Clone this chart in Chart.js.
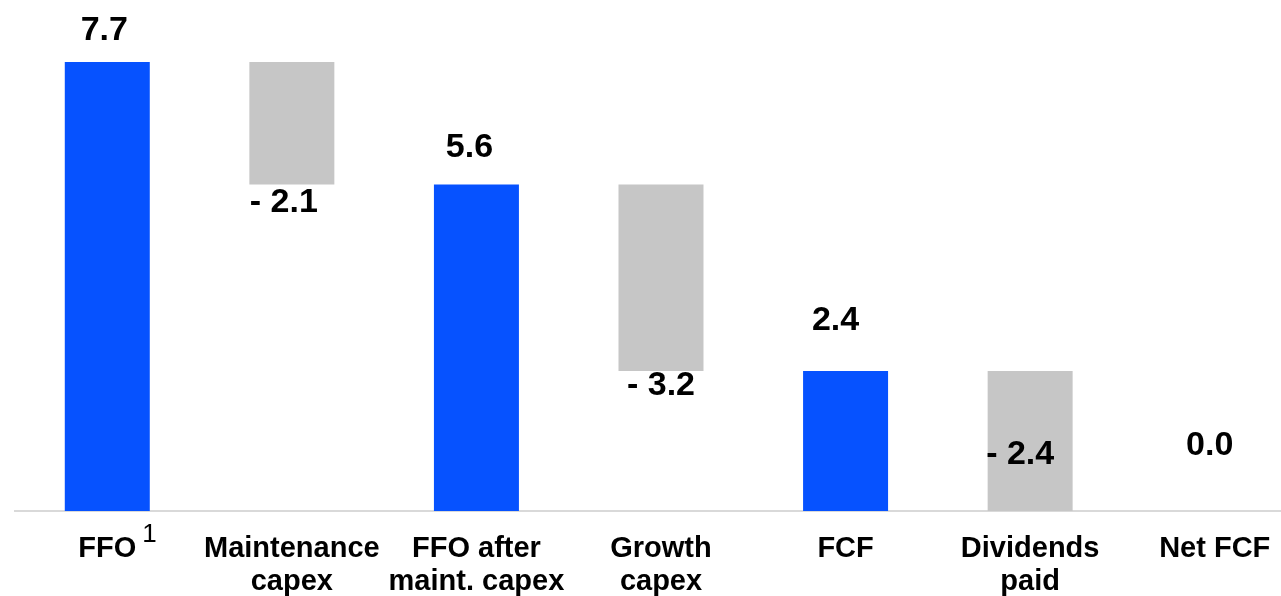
<!DOCTYPE html>
<html>
<head>
<meta charset="utf-8">
<script src="https://cdn.jsdelivr.net/npm/chart.js@4"></script>
<style>
  html, body { margin: 0; padding: 0; background: #fff; overflow: hidden; }
  #wrap { position: relative; width: 1320px; height: 596px; }
</style>
</head>
<body>
<div id="wrap"><canvas id="chart"></canvas></div>
<script>
// data (waterfall)
const categories = [['FFO'], ['Maintenance', 'capex'], ['FFO after', 'maint. capex'], ['Growth', 'capex'], ['FCF'], ['Dividends', 'paid'], ['Net FCF']];
const footnotes = ['1', '', '', '', '', '', ''];
const values = [7.7, -2.1, 5.6, -3.2, 2.4, -2.4, 0.0];
const isTotal = [true, false, true, false, true, false, true];

const blue = '#0652FF';
const grey = '#C6C6C6';

// floating bars: totals from 0, changes from the running total
let running = 0;
const bars = values.map((v, i) => {
  if (isTotal[i]) { running = v; return [0, v]; }
  const from = running;
  running = +(running + v).toFixed(1);
  return [from, running];
});

function fmt(v) {
  return v < 0 ? '- ' + Math.abs(v).toFixed(1) : v.toFixed(1);
}

// label placement (pixels from bar top for totals, from bar bottom for changes)
const labelDx = [-3, -8, -7, 0, -10, -10, -5];
const labelDy = [-22, 28, -27, 24, -41, -47, -56];

const labelPlugin = {
  id: 'valueLabels',
  afterDatasetsDraw(chart) {
    const ctx = chart.ctx;
    const meta = chart.getDatasetMeta(0);
    ctx.save();
    ctx.fillStyle = '#000';
    ctx.textAlign = 'center';
    ctx.textBaseline = 'alphabetic';
    ctx.font = 'bold 34px "Liberation Sans", Arial, sans-serif';
    meta.data.forEach((el, i) => {
      const top = Math.min(el.y, el.base);
      const bottom = Math.max(el.y, el.base);
      const anchor = isTotal[i] ? top : bottom;
      ctx.fillText(fmt(values[i]), el.x + labelDx[i], anchor + labelDy[i]);
    });
    // footnote marks next to category labels
    ctx.font = '26px "Liberation Sans", Arial, sans-serif';
    ctx.textAlign = 'left';
    const xs = chart.scales.x;
    footnotes.forEach((f, i) => {
      if (!f) return;
      ctx.fillText(f, xs.getPixelForValue(i) + 35, chart.chartArea.bottom + 31);
    });
    ctx.restore();
  }
};

new Chart(document.getElementById('chart'), {
  type: 'bar',
  data: {
    labels: categories,
    datasets: [{
      data: bars,
      backgroundColor: isTotal.map(t => t ? blue : grey),
      borderWidth: 0,
      categoryPercentage: 1,
      barPercentage: 0.4605
    }]
  },
  options: {
    responsive: true,
    maintainAspectRatio: false,
    animation: false,
    layout: { padding: { left: 15, right: 13, top: 0, bottom: 0 } },
    plugins: {
      legend: { display: false },
      tooltip: { enabled: false }
    },
    scales: {
      x: {
        grid: { display: false, drawTicks: false },
        border: { display: true, color: '#D9D9D9', width: 2 },
        ticks: {
          color: '#000',
          font: { family: '"Liberation Sans", Arial, sans-serif', size: 29, weight: 'bold', lineHeight: 1.15 },
          padding: 21,
          maxRotation: 0,
          autoSkip: false
        },
        afterFit(scale) { scale.height = 85; }
      },
      y: {
        display: false,
        min: 0,
        max: 8.763
      }
    }
  },
  plugins: [labelPlugin]
});
</script>
</body>
</html>
